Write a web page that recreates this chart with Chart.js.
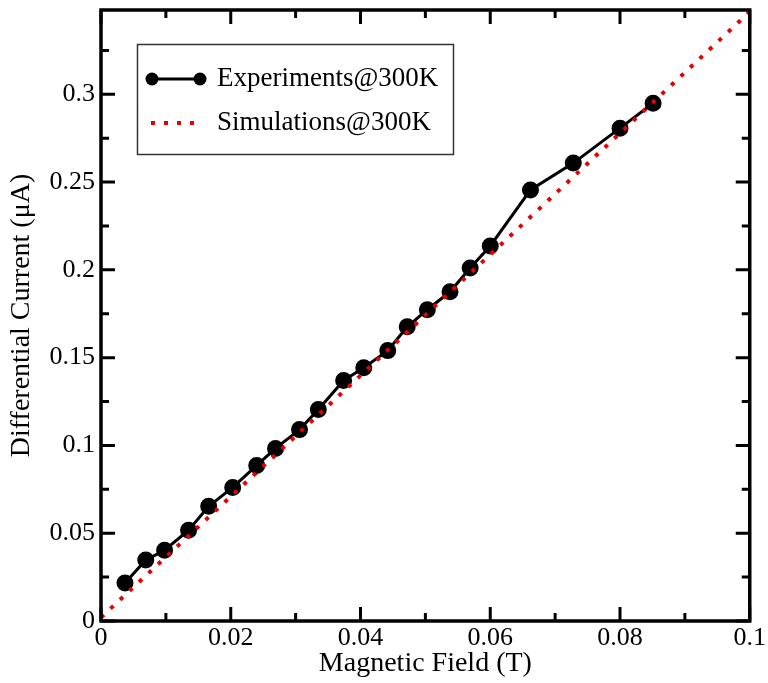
<!DOCTYPE html>
<html lang="en">
<head>
    <meta charset="utf-8">
    <title>Differential Current vs Magnetic Field</title>
    <script src="https://cdn.jsdelivr.net/npm/chart.js@4.4.1/dist/chart.umd.min.js"></script>
    <style>
        html, body {
            margin: 0;
            padding: 0;
            background: #fff;
        }

        #wrap {
            width: 768px;
            height: 683px;
        }
    </style>
</head>
<body>

<div id="wrap"><canvas id="chart"></canvas></div>

<script>
    // Experiments@300K
    const expField = [0.0037, 0.0069, 0.0098, 0.0135, 0.0166, 0.0203, 0.0240, 0.0269, 0.0306, 0.0335, 0.0374,
        0.0405, 0.0442, 0.0472, 0.0503, 0.0538, 0.0569, 0.0600, 0.0662, 0.0728, 0.0800, 0.0851];
    const expCurrent = [0.0216, 0.0347, 0.0403, 0.0517, 0.0653, 0.0761, 0.0886, 0.0983, 0.1090, 0.1205, 0.1370,
        0.1443, 0.1540, 0.1676, 0.1773, 0.1875, 0.2011, 0.2136, 0.2455, 0.2608, 0.2807, 0.2949];

    // Simulations@300K (straight dotted line)
    const simField = [0.0, 0.0611, 0.1];
    const simCurrent = [0.002, 0.2125, 0.347];

    // axis ticks
    const xTicks = [0, 0.02, 0.04, 0.06, 0.08, 0.1];
    const xMinorTicks = [0.01, 0.03, 0.05, 0.07, 0.09];
    const yTicks = [0, 0.05, 0.1, 0.15, 0.2, 0.25, 0.3];
    const yMinorTicks = [0.025, 0.075, 0.125, 0.175, 0.225, 0.275, 0.325];

    const serif = 'Liberation Serif';

    const toXY = (xs, ys) => xs.map((v, i) => ({x: v, y: ys[i]}));
    const fmt = v => String(+Number(v).toFixed(4));

    // frame with inward ticks on all four sides
    const frameTicks = {
        id: 'frameTicks',
        afterDatasetsDraw(chart) {
            const {ctx, chartArea: a, scales: {x, y}} = chart;
            ctx.save();
            ctx.strokeStyle = '#000';
            ctx.lineWidth = 3;
            ctx.beginPath();
            const tickX = (v, len) => {
                const px = x.getPixelForValue(v);
                ctx.moveTo(px, a.bottom); ctx.lineTo(px, a.bottom - len);
                ctx.moveTo(px, a.top); ctx.lineTo(px, a.top + len);
            };
            const tickY = (v, len) => {
                const py = y.getPixelForValue(v);
                ctx.moveTo(a.left, py); ctx.lineTo(a.left + len, py);
                ctx.moveTo(a.right, py); ctx.lineTo(a.right - len, py);
            };
            xTicks.forEach(v => tickX(v, 14));
            xMinorTicks.forEach(v => tickX(v, 8));
            yTicks.forEach(v => tickY(v, 14));
            yMinorTicks.forEach(v => tickY(v, 8));
            ctx.stroke();
            ctx.lineWidth = 3.5;
            ctx.strokeRect(a.left, a.top, a.right - a.left, a.bottom - a.top);
            ctx.restore();
        }
    };

    // boxed legend, top-left
    const boxLegend = {
        id: 'boxLegend',
        afterDraw(chart) {
            const ctx = chart.ctx;
            const [exp, sim] = chart.data.datasets;
            ctx.save();
            ctx.fillStyle = '#fff';
            ctx.fillRect(137, 44, 316, 110);
            ctx.strokeStyle = '#333';
            ctx.lineWidth = 1.5;
            ctx.strokeRect(137.5, 44.5, 316, 110);

            // experiments sample
            ctx.strokeStyle = exp.borderColor;
            ctx.lineWidth = exp.borderWidth;
            ctx.beginPath();
            ctx.moveTo(152, 79); ctx.lineTo(200, 79);
            ctx.stroke();
            ctx.fillStyle = exp.pointBackgroundColor;
            [152, 200].forEach(px => {
                ctx.beginPath();
                ctx.arc(px, 79, 6.5, 0, Math.PI * 2);
                ctx.fill();
            });

            // simulations sample
            ctx.strokeStyle = sim.borderColor;
            ctx.lineWidth = sim.borderWidth;
            ctx.setLineDash(sim.borderDash);
            ctx.beginPath();
            ctx.moveTo(151, 123); ctx.lineTo(196, 123);
            ctx.stroke();
            ctx.setLineDash([]);

            ctx.fillStyle = '#000';
            ctx.font = '27px "' + serif + '"';
            ctx.textBaseline = 'middle';
            ctx.textAlign = 'left';
            ctx.fillText(exp.label, 217, 79);
            ctx.fillText(sim.label, 217, 123);
            ctx.restore();
        }
    };

    new Chart(document.getElementById('chart'), {
        type: 'line',
        data: {
            datasets: [{
                label: 'Experiments@300K',
                data: toXY(expField, expCurrent),
                borderColor: '#000',
                borderWidth: 3,
                pointRadius: 7,
                pointBackgroundColor: '#000',
                pointBorderColor: '#000',
                order: 1
            }, {
                label: 'Simulations@300K',
                data: toXY(simField, simCurrent),
                borderColor: '#e60000',
                borderWidth: 4,
                borderDash: [4, 9],
                pointRadius: 0,
                order: 0
            }]
        },
        options: {
            responsive: true,
            maintainAspectRatio: false,
            animation: false,
            layout: {padding: {top: 8, right: 17, left: 0, bottom: 0}},
            plugins: {
                legend: {display: false},
                tooltip: {enabled: false}
            },
            scales: {
                x: {
                    type: 'linear',
                    min: 0,
                    max: 0.1,
                    afterFit: s => { s.height = 62; },
                    afterBuildTicks: s => { s.ticks = xTicks.map(v => ({value: v})); },
                    grid: {display: false, drawTicks: false},
                    border: {display: false},
                    ticks: {
                        padding: 2,
                        color: '#000',
                        maxRotation: 0,
                        font: {family: serif, size: 26},
                        callback: fmt
                    },
                    title: {
                        display: true,
                        text: 'Magnetic Field (T)',
                        color: '#000',
                        padding: {top: 0, bottom: 3},
                        font: {family: serif, size: 28}
                    }
                },
                y: {
                    type: 'linear',
                    min: 0,
                    max: 0.348,
                    afterFit: s => {
                        s.width = 101;
                        // no label at the top end, so drop the half-label padding
                        s.paddingTop = 0;
                        s.paddingBottom = 0;
                    },
                    afterBuildTicks: s => { s.ticks = yTicks.map(v => ({value: v})); },
                    grid: {display: false, drawTicks: false},
                    border: {display: false},
                    ticks: {
                        padding: 6,
                        color: '#000',
                        font: {family: serif, size: 26},
                        callback: fmt
                    },
                    title: {
                        display: true,
                        text: 'Differential Current (μA)',
                        color: '#000',
                        padding: {top: 5, bottom: 0},
                        font: {family: serif, size: 28}
                    }
                }
            }
        },
        plugins: [frameTicks, boxLegend]
    });
</script>

</body>
</html>
